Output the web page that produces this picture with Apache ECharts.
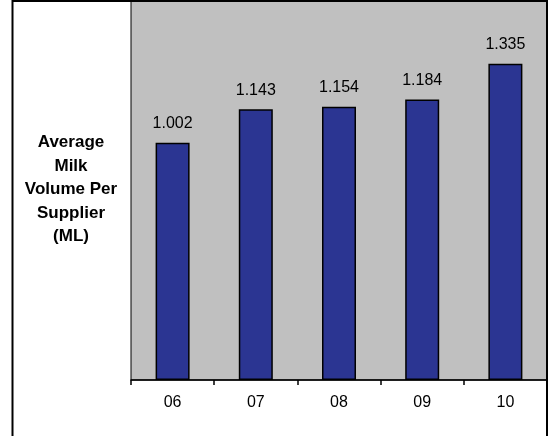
<!DOCTYPE html>
<html>
<head>
<meta charset="utf-8">
<script src="https://cdn.jsdelivr.net/npm/echarts@6/dist/echarts.min.js"></script>
<style>
  html, body { margin: 0; padding: 0; background: #ffffff; }
  #chart { width: 550px; height: 436px; }
</style>
</head>
<body>
<div id="chart"></div>
<script>
// Years shown along the category axis
const years = ['06', '07', '08', '09', '10'];
// Average milk volume per supplier (ML)
const avgVolume = [1.002, 1.143, 1.154, 1.184, 1.335];
// Value axis range
const yMin = 0;
const yMax = 1.6;

const FONT = '"Liberation Sans", Arial, sans-serif';

const chart = echarts.init(document.getElementById('chart'), null, { renderer: 'canvas' });

chart.setOption({
  animation: false,
  backgroundColor: '#ffffff',
  grid: {
    left: 131,
    top: 1,
    width: 416,
    height: 379,
    show: true,
    backgroundColor: '#c0c0c0',
    borderColor: '#000000',
    borderWidth: 1
  },
  xAxis: {
    type: 'category',
    data: years,
    axisLine: { show: true, lineStyle: { color: '#000000', width: 1.5 } },
    axisTick: { show: true, length: 5, inside: false, alignWithLabel: false,
      lineStyle: { color: '#000000', width: 1.5 } },
    axisLabel: { color: '#000000', fontFamily: FONT, fontSize: 16, margin: 15 },
    splitLine: { show: false }
  },
  yAxis: {
    type: 'value',
    min: yMin,
    max: yMax,
    show: false,
    splitLine: { show: false }
  },
  series: [{
    type: 'bar',
    data: avgVolume,
    barWidth: 34,
    itemStyle: { color: '#2b3592', borderColor: '#000000', borderWidth: 1.5 },
    label: {
      show: true,
      position: 'top',
      distance: 11,
      color: '#000000',
      fontFamily: FONT,
      fontSize: 16,
      formatter: p => p.value.toFixed(3)
    }
  }],
  graphic: [
    {
      type: 'rect',
      silent: true,
      shape: { x: 12.5, y: 1, width: 534.5, height: 450 },
      style: { fill: 'none', stroke: '#000000', lineWidth: 2 },
      z: 100
    },
    {
      type: 'text',
      silent: true,
      left: 71 - 60,
      top: 131,
      style: {
        text: 'Average\nMilk\nVolume Per\nSupplier\n(ML)',
        width: 120,
        align: 'center',
        x: 60,
        textAlign: 'center',
        font: 'bold 17px ' + FONT,
        lineHeight: 23.5,
        fill: '#000000'
      }
    }
  ]
});
</script>
</body>
</html>
